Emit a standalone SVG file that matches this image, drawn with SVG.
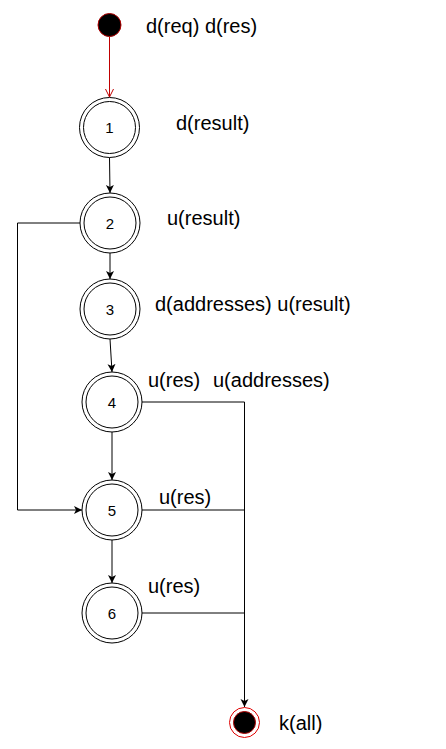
<svg xmlns="http://www.w3.org/2000/svg" width="446" height="749" viewBox="0 0 446 749">
<style>
.outer{fill:#fff;stroke:#000;stroke-width:1}
.inner{fill:none;stroke:#000;stroke-width:1}
.num{font-family:"Liberation Sans",Arial,sans-serif;font-size:15px;fill:#000;text-anchor:middle}
.lbl{font-family:"Liberation Sans",Arial,sans-serif;font-size:20px;fill:#000}
.edge{fill:none;stroke:#000;stroke-width:1}
</style>
<defs>
<marker id="arr" markerWidth="10" markerHeight="10" refX="8" refY="4" orient="auto" markerUnits="userSpaceOnUse">
<path d="M0,0 L8,4 L0,8 L2,4 Z" fill="#000"/>
</marker>
<marker id="arrRed" markerWidth="10" markerHeight="10" refX="8" refY="4" orient="auto" markerUnits="userSpaceOnUse">
<path d="M0,0 L8,4 L0,8" fill="none" stroke="#c00000" stroke-width="1"/>
</marker>
</defs>
<rect width="446" height="749" fill="#fff"/>
<g id="connectors">
<path class="edge" d="M109.5,37 L109.5,97" stroke="#c00000" style="stroke:#c00000" marker-end="url(#arrRed)"/>
<path class="edge" d="M109.5,157.5 L110,193" marker-end="url(#arr)"/>
<path class="edge" d="M110,253 L110,279" marker-end="url(#arr)"/>
<path class="edge" d="M110,339 L112,372" marker-end="url(#arr)"/>
<path class="edge" d="M112,432 L112,480" marker-end="url(#arr)"/>
<path class="edge" d="M112,540 L112,583" marker-end="url(#arr)"/>
<path class="edge" d="M80,223 L17.5,223 L17.5,510 L82,510" marker-end="url(#arr)"/>
<path class="edge" d="M142,402 L244.5,402 L244.5,707" marker-end="url(#arr)"/>
<path class="edge" d="M142,510 L244.5,510"/>
<path class="edge" d="M142,613 L244.5,613"/>
</g>
<g id="start">
<circle cx="109.5" cy="25" r="11.5" fill="#000" stroke="#b00000" stroke-width="1"/>
<text class="lbl" x="146" y="33">d(req) d(res)</text>
</g>
<g id="node1">
<circle class="outer" cx="109.5" cy="127.5" r="30"/>
<circle class="inner" cx="109.5" cy="127.5" r="26"/>
<text class="num" x="109.5" y="133">1</text>
<text class="lbl" x="176" y="130">d(result)</text>
</g>
<g id="node2">
<circle class="outer" cx="110" cy="223" r="30"/>
<circle class="inner" cx="110" cy="223" r="26"/>
<text class="num" x="110" y="228.5">2</text>
<text class="lbl" x="167" y="225">u(result)</text>
</g>
<g id="node3">
<circle class="outer" cx="110" cy="309" r="30"/>
<circle class="inner" cx="110" cy="309" r="26"/>
<text class="num" x="110" y="314.5">3</text>
<text class="lbl" x="155" y="311">d(addresses) u(result)</text>
</g>
<g id="node4">
<circle class="outer" cx="112" cy="402" r="30"/>
<circle class="inner" cx="112" cy="402" r="26"/>
<text class="num" x="112" y="407.5">4</text>
<text class="lbl" x="148" y="387">u(res)</text>
<text class="lbl" x="213" y="387">u(addresses)</text>
</g>
<g id="node5">
<circle class="outer" cx="112" cy="510" r="30"/>
<circle class="inner" cx="112" cy="510" r="26"/>
<text class="num" x="112" y="515.5">5</text>
<text class="lbl" x="159" y="504">u(res)</text>
</g>
<g id="node6">
<circle class="outer" cx="112" cy="613" r="30"/>
<circle class="inner" cx="112" cy="613" r="26"/>
<text class="num" x="112" y="618.5">6</text>
<text class="lbl" x="148" y="593">u(res)</text>
</g>
<g id="end">
<circle cx="244.5" cy="722.5" r="15" fill="#fff" stroke="#e00000" stroke-width="1"/>
<circle cx="244.5" cy="722.5" r="11" fill="#000" stroke="#b00000" stroke-width="1"/>
<text class="lbl" x="279" y="730">k(all)</text>
</g>
</svg>
